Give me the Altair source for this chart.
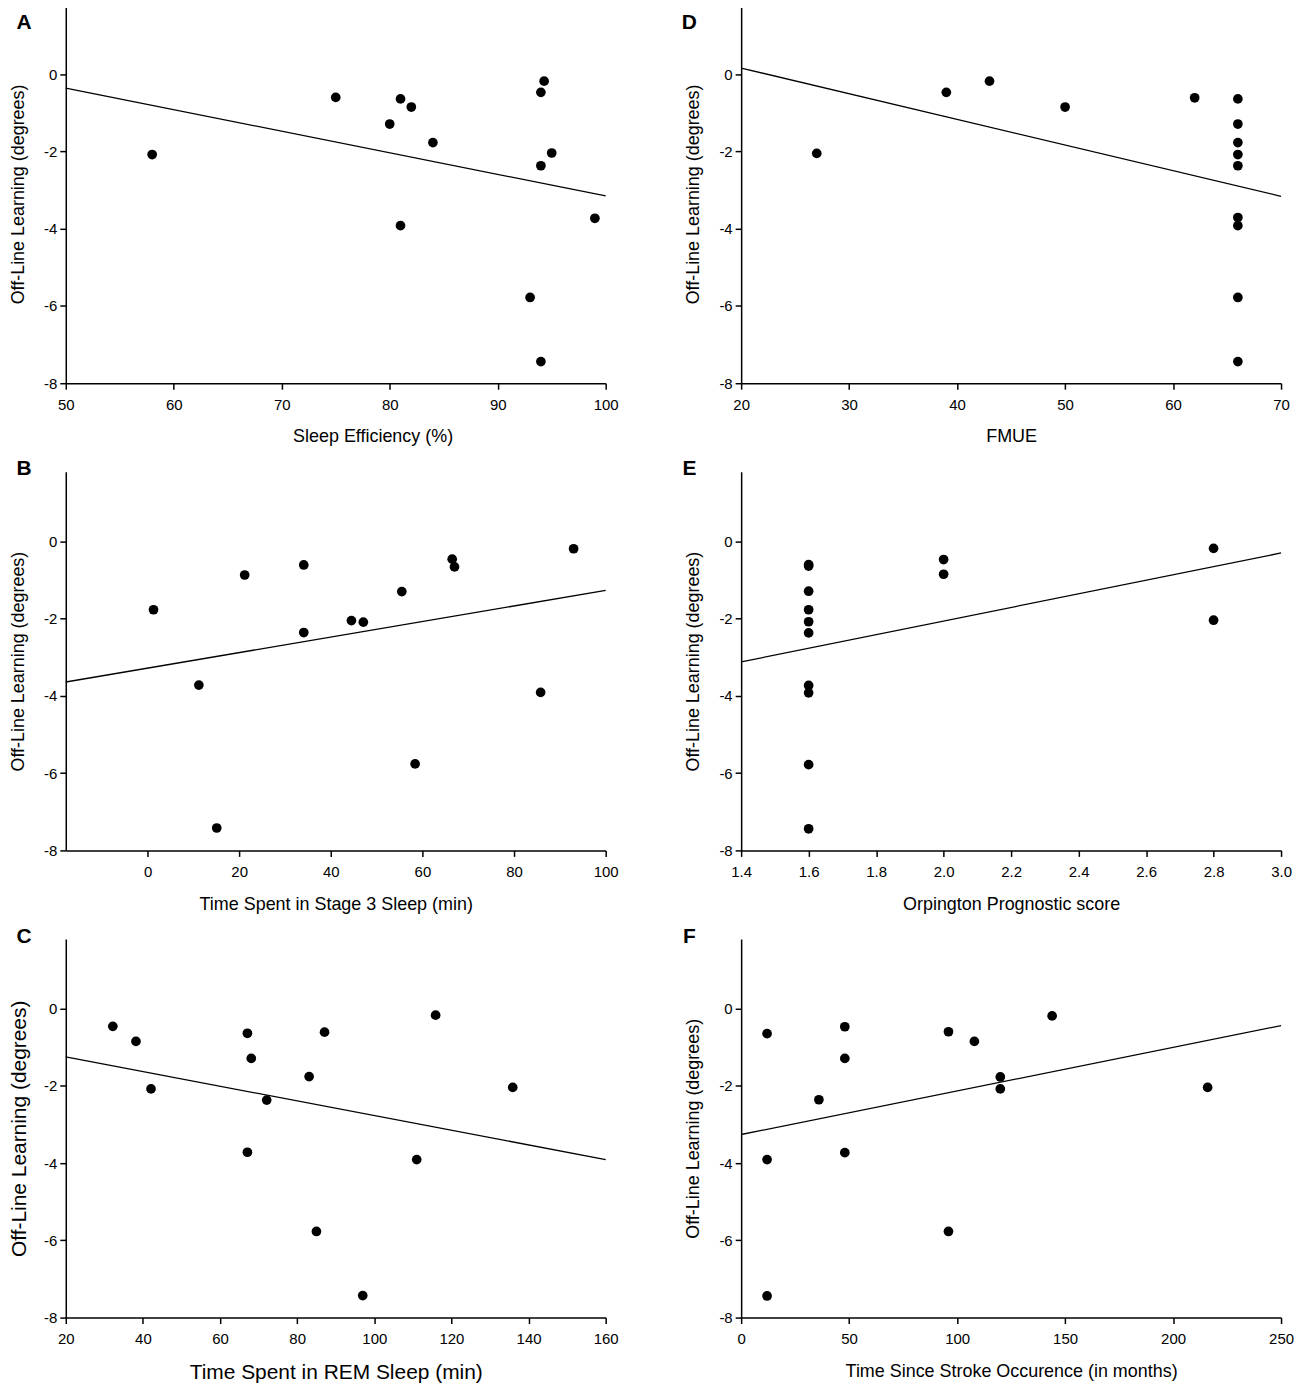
import altair as alt
import pandas as pd

FONT = "Liberation Sans"

# ---- Panel A: Sleep efficiency ----
A_x = [58, 75, 81, 82, 80, 84, 81, 94.3, 94, 95, 94, 99, 93, 94]
A_y = [-2.08, -0.60, -0.64, -0.85, -1.29, -1.77, -3.92, -0.18, -0.47, -2.04, -2.37, -3.73, -5.78, -7.44]
A_fit_x = [50, 100]
A_fit_y = [-0.36, -3.15]

# ---- Panel D: FMUE ----
D_x = [27, 39, 43, 50, 62, 66, 66, 66, 66, 66, 66, 66, 66, 66]
D_y = [-2.05, -0.47, -0.18, -0.85, -0.61, -0.64, -1.29, -1.77, -2.08, -2.37, -3.71, -3.92, -5.78, -7.44]
D_fit_x = [20, 70]
D_fit_y = [0.16, -3.16]

# ---- Panel B: Stage 3 sleep ----
B_x = [1.3, 11.2, 15.1, 21.2, 34.1, 34.1, 44.5, 47.1, 55.5, 58.4, 66.5, 67.0, 85.8, 93.0]
B_y = [-1.77, -3.72, -7.42, -0.87, -0.61, -2.36, -2.05, -2.09, -1.30, -5.76, -0.46, -0.66, -3.91, -0.19]
B_fit_x = [-17.85, 100]
B_fit_y = [-3.64, -1.27]

# ---- Panel E: Orpington prognostic score ----
E_x = [1.6, 1.6, 1.6, 1.6, 1.6, 1.6, 1.6, 1.6, 1.6, 1.6, 2.0, 2.0, 2.8, 2.8]
E_y = [-0.60, -0.64, -1.29, -1.77, -2.08, -2.37, -3.73, -3.92, -5.78, -7.44, -0.47, -0.85, -0.18, -2.04]
E_fit_x = [1.4, 3.0]
E_fit_y = [-3.12, -0.30]

# ---- Panel C: REM sleep ----
C_x = [32.2, 38.2, 42.1, 67.1, 68.1, 67.1, 72.1, 83.1, 87.1, 85.0, 97.0, 111.0, 115.9, 135.9]
C_y = [-0.46, -0.85, -2.08, -0.64, -1.29, -3.72, -2.37, -1.76, -0.61, -5.77, -7.43, -3.91, -0.17, -2.04]
C_fit_x = [20, 160]
C_fit_y = [-1.25, -3.91]

# ---- Panel F: Time since stroke ----
F_x = [12, 12, 12, 36, 48, 48, 48, 96, 96, 108, 120, 120, 144, 216]
F_y = [-0.65, -3.91, -7.44, -2.36, -0.47, -1.29, -3.73, -0.60, -5.77, -0.85, -1.77, -2.08, -0.19, -2.04]
F_fit_x = [0, 250]
F_fit_y = [-3.26, -0.44]

Y_TICKS = [-8, -6, -4, -2, 0]
Y_TITLE = "Off-Line Learning (degrees)"


def panel(letter, xs, ys, fx, fy, xdom, xticks, xtitle, dec=0,
          title_size=18, ytitle_size=18, label_size=15, letter_x=-42, letter_y=18,
          ytitle_pad=16, title_x=None, xtitle_pad=16):
    pts = pd.DataFrame({"x": xs, "y": ys})
    fit = pd.DataFrame({"x": fx, "y": fy})
    xscale = alt.Scale(domain=xdom, nice=False, zero=False)
    yscale = alt.Scale(domain=[-8, 1.8], nice=False, zero=False)
    if dec:
        xlab = "format(datum.value, '.%df')" % dec
    else:
        xlab = "'' + datum.value"
    xkw = dict(values=xticks, title=xtitle, labelExpr=xlab, labelFlush=False,
               labelOverlap=False, labelFontSize=label_size, titleFontSize=title_size,
               labelPadding=8, titlePadding=xtitle_pad, titleFontWeight="normal")
    if title_x is not None:
        xkw["titleX"] = title_x
    xaxis = alt.Axis(**xkw)
    yaxis = alt.Axis(values=Y_TICKS, title=Y_TITLE, labelExpr="'' + datum.value",
                     labelFontSize=label_size, titleFontSize=ytitle_size,
                     labelPadding=3, titlePadding=ytitle_pad, titleFontWeight="normal")
    p = alt.Chart(pts).mark_circle(size=95, color="black", opacity=1).encode(
        x=alt.X("x:Q", scale=xscale, axis=xaxis),
        y=alt.Y("y:Q", scale=yscale, axis=yaxis),
    )
    l = alt.Chart(fit).mark_line(color="black", strokeWidth=1.3).encode(
        x=alt.X("x:Q", scale=xscale, axis=xaxis),
        y=alt.Y("y:Q", scale=yscale, axis=yaxis),
    )
    t = alt.Chart(pd.DataFrame({"t": [letter]})).mark_text(
        font=FONT, fontWeight="bold", fontSize=21, align="center", baseline="middle",
        color="black"
    ).encode(x=alt.value(letter_x), y=alt.value(letter_y), text="t:N")
    return alt.layer(l, p, t).properties(width=542, height=380)


pA = panel("A", A_x, A_y, A_fit_x, A_fit_y, [50, 100], [50, 60, 70, 80, 90, 100],
           "Sleep Efficiency (%)", title_x=308)
pD = panel("D", D_x, D_y, D_fit_x, D_fit_y, [20, 70], [20, 30, 40, 50, 60, 70],
           "FMUE", letter_x=-52)
pB = panel("B", B_x, B_y, B_fit_x, B_fit_y, [-17.85, 100], [0, 20, 40, 60, 80, 100],
           "Time Spent in Stage 3 Sleep (min)", letter_y=-3)
pE = panel("E", E_x, E_y, E_fit_x, E_fit_y, [1.4, 3.0],
           [1.4, 1.6, 1.8, 2.0, 2.2, 2.4, 2.6, 2.8, 3.0],
           "Orpington Prognostic score", dec=1, letter_x=-52, letter_y=-3)
pC = panel("C", C_x, C_y, C_fit_x, C_fit_y, [20, 160], [20, 40, 60, 80, 100, 120, 140, 160],
           "Time Spent in REM Sleep (min)", title_size=21, ytitle_size=21, label_size=15,
           letter_y=-2, ytitle_pad=14, xtitle_pad=15)
pF = panel("F", F_x, F_y, F_fit_x, F_fit_y, [0, 250], [0, 50, 100, 150, 200, 250],
           "Time Since Stroke Occurence (in months)", letter_x=-52, letter_y=-2)

chart = alt.concat(
    pA, pD, pB, pE, pC, pF,
    columns=2,
    spacing={"row": 89, "column": 136},
    bounds="flush",
).properties(
    padding={"top": -6, "left": 0, "right": 0, "bottom": 0},
    background="white",
).configure(
    font=FONT,
).configure_view(
    stroke=None,
).configure_axis(
    grid=False,
    domainColor="black",
    domainWidth=1.5,
    tickColor="black",
    tickWidth=1.5,
    tickSize=6,
    labelColor="black",
    titleColor="black",
    labelFont=FONT,
    titleFont=FONT,
)

chart.save("out.html", embed_options={"renderer": "svg", "actions": False})
